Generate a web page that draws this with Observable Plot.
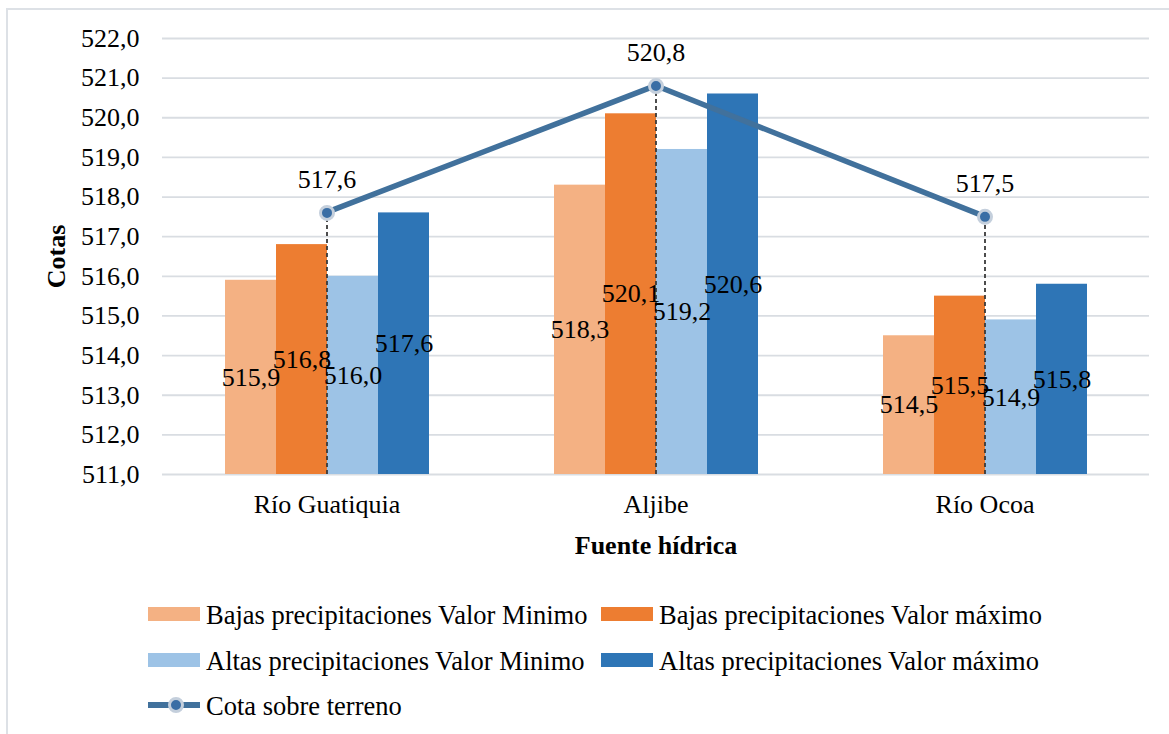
<!DOCTYPE html>
<html>
<head>
<meta charset="utf-8">
<script src="https://cdn.jsdelivr.net/npm/d3@7"></script>
<script src="https://cdn.jsdelivr.net/npm/@observablehq/plot@0.6"></script>
<style>
  body { margin: 0; background: #fff; }
  #wrap { position: relative; width: 1169px; height: 734px; overflow: hidden; background: #fff;
          font-family: "Liberation Serif", "Times New Roman", serif; }
  #border { position: absolute; left: 6px; top: 8px; width: 1300px; height: 900px;
            border: 2px solid #dde1e6; box-sizing: border-box; }
  #chart { position: absolute; left: 0; top: 0; }
  #chart svg { overflow: visible; }
  [aria-label$="-axis label"] text { font-weight: 700; }
  .leg { position: absolute; font-size: 26.5px; line-height: 26px; color: #000; white-space: nowrap; }
  .sw { position: absolute; width: 52px; height: 14px; }
</style>
</head>
<body>
<div id="wrap">
  <div id="border"></div>
  <div id="chart"></div>
  <div id="legend"></div>
</div>
<script>
// ---- data ----
const categories = ["Río Guatiquia", "Aljibe", "Río Ocoa"];
const seriesNames = [
  "Bajas precipitaciones Valor Minimo",
  "Bajas precipitaciones Valor máximo",
  "Altas precipitaciones Valor Minimo",
  "Altas precipitaciones Valor máximo"
];
const bajasMin = [515.9, 518.3, 514.5];
const bajasMax = [516.8, 520.1, 515.5];
const altasMin = [516.0, 519.2, 514.9];
const altasMax = [517.6, 520.6, 515.8];
const lineName = "Cota sobre terreno";
const cotaTerreno = [517.6, 520.8, 517.5];
const yTicks = [511, 512, 513, 514, 515, 516, 517, 518, 519, 520, 521, 522];
const seriesColors = ["#F4B183", "#ED7D31", "#9DC3E6", "#2E75B6"];
const lineColor = "#41719C";
const yTitle = "Cotas";
const xTitle = "Fuente hídrica";

// ---- tables built from the arrays ----
const seriesValues = [bajasMin, bajasMax, altasMin, altasMax];
const bars = categories.flatMap((c, i) =>
  seriesNames.map((s, k) => ({cat: c, series: s, value: seriesValues[k][i]})));
const line = categories.map((c, i) => ({cat: c, value: cotaTerreno[i]}));
const fmt = v => v.toFixed(1).replace(".", ",");
const base = yTicks[0];

const plot = Plot.plot({
  width: 1169,
  height: 570,
  marginTop: 38,
  marginLeft: 161,
  marginRight: 19,
  marginBottom: 96,
  style: {fontFamily: "'Liberation Serif', 'Times New Roman', serif", fontSize: "26px",
          color: "#000", background: "transparent", overflow: "visible"},
  fx: {domain: categories, padding: 0},
  x: {domain: seriesNames, paddingInner: 0, paddingOuter: 1.215, axis: null},
  y: {domain: [yTicks[0], yTicks[yTicks.length - 1]]},
  color: {domain: seriesNames, range: seriesColors},
  marks: [
    Plot.gridY(yTicks, {stroke: "#d9dde2", strokeOpacity: 1, strokeWidth: 1.8}),
    Plot.axisY(yTicks, {tickSize: 0, tickPadding: 23, tickFormat: fmt, label: yTitle,
                        labelAnchor: "center", labelOffset: 116, labelArrow: "none"}),
    Plot.axisFx({anchor: "bottom", tickSize: 0, tickPadding: 20, label: xTitle,
                 labelAnchor: "center", labelOffset: 79, labelArrow: "none"}),
    Plot.barY(bars, {fx: "cat", x: "series", y1: base, y2: "value", fill: "series"}),
    Plot.ruleX(line, {fx: "cat", x: null, y1: base, y2: "value", stroke: "#3a3a3a",
                      strokeWidth: 1.8, strokeDasharray: "4,3"}),
    Plot.frame({
      facet: "super", stroke: "none",
      render: (index, scales) => {
        const {fx, y} = scales;
        const pts = line.map(d => [fx(d.cat) + fx.bandwidth() / 2, y(d.value)]);
        return d3.create("svg:path")
          .attr("d", d3.line()(pts))
          .attr("fill", "none")
          .attr("stroke", lineColor)
          .attr("stroke-width", 5.5)
          .attr("stroke-linejoin", "round")
          .node();
      }
    }),
    Plot.dot(line, {fx: "cat", y: "value", r: 6.5, fill: "#3a6ea5", stroke: "#c4cfdc", strokeWidth: 3}),
    Plot.text(line, {fx: "cat", y: "value", text: d => fmt(d.value), dy: -33, fill: "#000"}),
    Plot.text(bars, {fx: "cat", x: "series", y: d => (d.value + base) / 2,
                     text: d => fmt(d.value), fill: "#000"})
  ]
});
document.getElementById("chart").appendChild(plot);

// ---- legend (HTML, below the SVG) ----
const legend = document.getElementById("legend");
const rowsTop = [607, 653];
const colsLeft = [148, 601];
seriesNames.forEach((s, k) => {
  const row = Math.floor(k / 2), col = k % 2;
  const sw = document.createElement("div");
  sw.className = "sw";
  sw.style.left = colsLeft[col] + "px";
  sw.style.top = rowsTop[row] + "px";
  sw.style.background = seriesColors[k];
  legend.appendChild(sw);
  const t = document.createElement("div");
  t.className = "leg";
  t.style.left = (colsLeft[col] + 58) + "px";
  t.style.top = (rowsTop[row] - 5) + "px";
  t.textContent = s;
  legend.appendChild(t);
});
// line legend item
const ic = document.createElementNS("http://www.w3.org/2000/svg", "svg");
ic.setAttribute("width", 56); ic.setAttribute("height", 20);
ic.style.position = "absolute"; ic.style.left = "146px"; ic.style.top = "695px";
ic.innerHTML = `<line x1="2" x2="54" y1="10" y2="10" stroke="${lineColor}" stroke-width="6"/>
  <circle cx="30" cy="10" r="6.5" fill="#3a6ea5" stroke="#c4cfdc" stroke-width="3"/>`;
legend.appendChild(ic);
const lt = document.createElement("div");
lt.className = "leg";
lt.style.left = "206px"; lt.style.top = "693px";
lt.textContent = lineName;
legend.appendChild(lt);
</script>
</body>
</html>
